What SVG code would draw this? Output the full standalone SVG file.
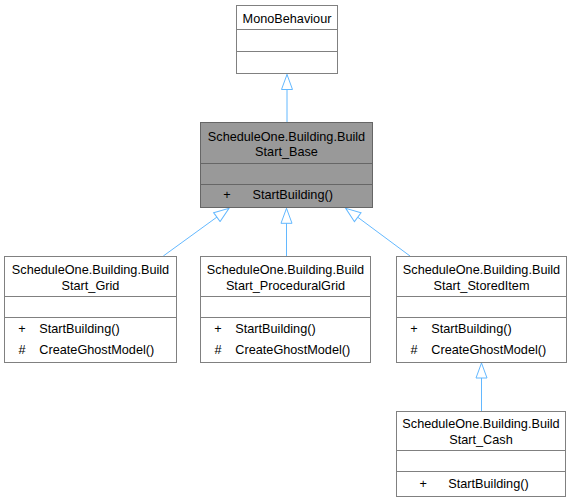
<svg xmlns="http://www.w3.org/2000/svg" width="574" height="501" viewBox="0 0 574 501">
<style>
.box{fill:#ffffff;stroke:#808080;stroke-width:1}
.boxg{fill:#999999;stroke:#666666;stroke-width:1}
.div{stroke:#808080;stroke-width:1}
.divg{stroke:#666666;stroke-width:1}
text{font-family:"Liberation Sans",Arial,sans-serif;font-size:12.7px;fill:#000000}
.c{text-anchor:middle}
.edge{fill:none;stroke:#63b8ff;stroke-width:1;marker-end:url(#inh)}
</style>
<defs>
<marker id="inh" markerUnits="userSpaceOnUse" markerWidth="17" markerHeight="13" refX="15" refY="5.5" orient="auto" viewBox="-1 -1 17 13">
<path d="M0,0 L15,5.5 L0,11 Z" fill="#ffffff" stroke="#63b8ff" stroke-width="1"/>
</marker>
</defs>
<g id="connectors">
<path class="edge" d="M287,122 L287,74.5"/>
<path class="edge" d="M163.3,256 L229,208.3"/>
<path class="edge" d="M286.5,256 L286.5,208.3"/>
<path class="edge" d="M410,256 L345.7,208.3"/>
<path class="edge" d="M481.5,411 L481.5,363"/>
</g>
<g id="MonoBehaviour">
<rect class="box" x="236.5" y="5.5" width="101" height="68"/>
<line class="div" x1="236.5" y1="29.5" x2="337.5" y2="29.5"/>
<line class="div" x1="236.5" y1="51.5" x2="337.5" y2="51.5"/>
<text class="c" x="287" y="22.5">MonoBehaviour</text>
</g>
<g id="BuildStart_Base">
<rect class="boxg" x="200.5" y="122.5" width="172" height="85"/>
<line class="divg" x1="200.5" y1="163.5" x2="372.5" y2="163.5"/>
<line class="divg" x1="200.5" y1="184.5" x2="372.5" y2="184.5"/>
<text class="c" x="286.5" y="140.5">ScheduleOne.Building.Build</text>
<text class="c" x="286.5" y="156">Start_Base</text>
<text class="c" x="227" y="199">+</text>
<text x="252.5" y="199">StartBuilding()</text>
</g>
<g id="BuildStart_Grid">
<rect class="box" x="4.5" y="256.5" width="172" height="106"/>
<line class="div" x1="4.5" y1="296.5" x2="176.5" y2="296.5"/>
<line class="div" x1="4.5" y1="317.5" x2="176.5" y2="317.5"/>
<text class="c" x="90.5" y="274">ScheduleOne.Building.Build</text>
<text class="c" x="90.5" y="290">Start_Grid</text>
<text class="c" x="22" y="332.5">+</text>
<text x="39.3" y="332.5">StartBuilding()</text>
<text class="c" x="22" y="354">#</text>
<text x="39.3" y="354">CreateGhostModel()</text>
</g>
<g id="BuildStart_ProceduralGrid">
<rect class="box" x="200.5" y="256.5" width="170" height="106"/>
<line class="div" x1="200.5" y1="296.5" x2="370.5" y2="296.5"/>
<line class="div" x1="200.5" y1="317.5" x2="370.5" y2="317.5"/>
<text class="c" x="285.5" y="274">ScheduleOne.Building.Build</text>
<text class="c" x="285.5" y="290">Start_ProceduralGrid</text>
<text class="c" x="218" y="332.5">+</text>
<text x="235.3" y="332.5">StartBuilding()</text>
<text class="c" x="218" y="354">#</text>
<text x="235.3" y="354">CreateGhostModel()</text>
</g>
<g id="BuildStart_StoredItem">
<rect class="box" x="396.5" y="256.5" width="170" height="106"/>
<line class="div" x1="396.5" y1="296.5" x2="566.5" y2="296.5"/>
<line class="div" x1="396.5" y1="317.5" x2="566.5" y2="317.5"/>
<text class="c" x="481.5" y="274">ScheduleOne.Building.Build</text>
<text class="c" x="481.5" y="290">Start_StoredItem</text>
<text class="c" x="414" y="332.5">+</text>
<text x="431.3" y="332.5">StartBuilding()</text>
<text class="c" x="414" y="354">#</text>
<text x="431.3" y="354">CreateGhostModel()</text>
</g>
<g id="BuildStart_Cash">
<rect class="box" x="396.5" y="411.5" width="169" height="85"/>
<line class="div" x1="396.5" y1="450.5" x2="565.5" y2="450.5"/>
<line class="div" x1="396.5" y1="471.5" x2="565.5" y2="471.5"/>
<text class="c" x="481" y="428">ScheduleOne.Building.Build</text>
<text class="c" x="481" y="444">Start_Cash</text>
<text class="c" x="423.3" y="487.5">+</text>
<text x="448.3" y="487.5">StartBuilding()</text>
</g>
</svg>
